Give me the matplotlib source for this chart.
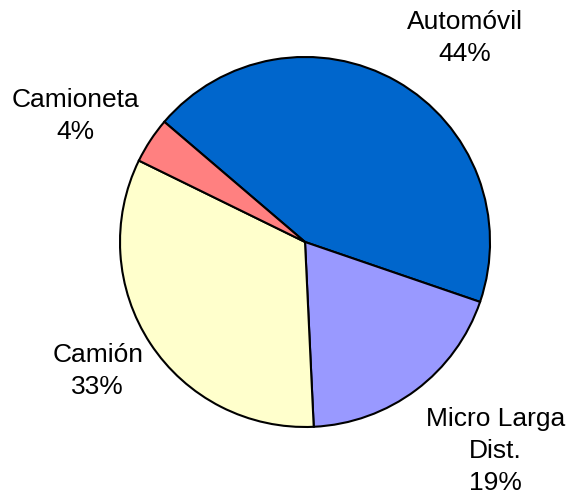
import matplotlib.pyplot as plt

# Data
categories = ['Automóvil', 'Micro Larga\nDist.', 'Camión', 'Camioneta']
shares = [44, 19, 33, 4]
colors = ['#0066CC', '#9999FF', '#FFFFCC', '#FF8080']

# label block centres (pie radius = 1)
label_pos = [(0.865, 1.10), (1.03, -1.13), (-1.12, -0.70), (-1.24, 0.68)]

plt.rcParams['font.family'] = ['Liberation Sans', 'DejaVu Sans']

fig = plt.figure(figsize=(5.69, 4.98), dpi=100)
ax = fig.add_axes([0.2109, 0.1426, 0.6503, 0.743])

wedges, _ = ax.pie(shares, colors=colors, startangle=139.5, counterclock=False,
                   radius=1, wedgeprops=dict(edgecolor='black', linewidth=1.5))

total = sum(shares)
for name, val, (x, y) in zip(categories, shares, label_pos):
    ax.text(x, y, f"{name}\n{val / total * 100:.0f}%", ha='center', va='center',
            fontsize=19, linespacing=1.42, clip_on=False)

ax.set_xlim(-1, 1)
ax.set_ylim(-1, 1)
ax.set_aspect('equal')
ax.axis('off')

fig.savefig('out.png', dpi=100)
